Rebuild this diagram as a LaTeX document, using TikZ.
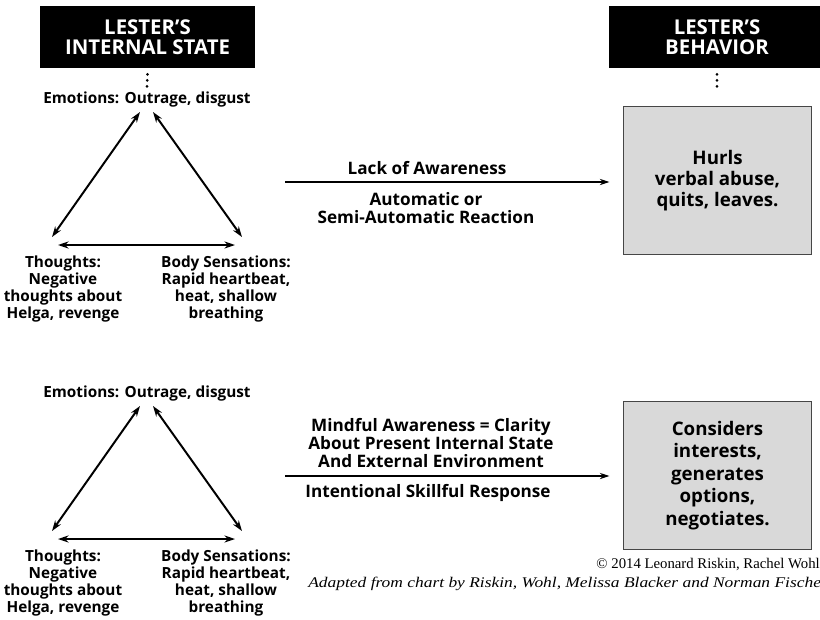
\documentclass[tikz,border=0pt]{standalone}
\usepackage{fontspec}
\setmainfont{Open Sans}
\newfontfamily\notefont{Liberation Serif}
\usepackage{tikz}
\usetikzlibrary{
  positioning,
  arrows.meta
}
\definecolor{boxgray}{RGB}{217,217,217}
\definecolor{edgegray}{RGB}{70,70,70}

\tikzset{
  header/.style={fill=black,text=white,align=center,inner sep=0pt,
    minimum width=5.375cm,minimum height=1.55cm,
    font=\fontsize{14.5}{14.5}\selectfont\bfseries},
  label/.style={align=center,inner sep=0pt,font=\fontsize{10.9}{12.1}\selectfont\bfseries},
  arrowtext/.style={align=center,inner sep=0pt,font=\fontsize{12.2}{12.9}\selectfont\bfseries},
  behavior/.style={draw=edgegray,fill=boxgray,line width=0.7pt,align=center,
    minimum width=4.675cm,minimum height=3.675cm,font=\fontsize{13.3}{15}\selectfont\bfseries},
  dots/.style={line width=2.1pt,line cap=round,dash pattern=on 0pt off 4.3pt},
  twoway/.style={{Stealth[length=7.5pt,width=5pt]}-{Stealth[length=7.5pt,width=5pt]},line width=1.4pt},
  leadto/.style={-{Stealth[length=7pt,width=4.5pt]},line width=0.9pt}
}

\begin{document}
\begin{tikzpicture}[x=0.025cm,y=-0.025cm]
  \useasboundingbox (0,0) rectangle (820,619);
  \clip (0,0) rectangle (820,619);

  % headers
  \node[header] (hdrState) at (147.5,37) {LESTER'S\\INTERNAL STATE};
  \node[header] (hdrBehav) at (717,37) {LESTER'S\\BEHAVIOR};
  \coordinate (dotEnd) at (717,88);
  \draw[dots] ([yshift=-0.15cm]hdrBehav.south) -- (dotEnd);

  % the two triangles
  \foreach \s/\dy in {a/0,b/294}{
    \node[label] (emo\s) at (147,100+\dy) {Emotions: Outrage, disgust};
    \node[label] (tho\s) at (63,289+\dy) {Thoughts:\\Negative\\thoughts about\\Helga, revenge};
    \node[label] (body\s) at (226,289+\dy) {Body Sensations:\\Rapid heartbeat,\\heat, shallow\\breathing};
    \coordinate (apexL\s) at (140,112+\dy);
    \coordinate (apexR\s) at (153,112+\dy);
    \coordinate (cornL\s) at (52,237+\dy);
    \coordinate (cornR\s) at (242,237+\dy);
    \coordinate (baseL\s) at (58,245+\dy);
    \coordinate (baseR\s) at (235,245+\dy);
    \draw[twoway] (apexL\s) -- (cornL\s);
    \draw[twoway] (apexR\s) -- (cornR\s);
    \draw[twoway] (baseL\s) -- (baseR\s);
  }
  \draw[dots] ([yshift=-0.15cm]hdrState.south) -- ([yshift=0.12cm]emoa.north);

  % behaviour boxes
  \node[behavior] (hurls) at (717.5,180.5)
    {Hurls\\verbal abuse,\\quits, leaves.};
  \node[behavior,font=\fontsize{13.3}{16}\selectfont\bfseries] (consider) at (717.5,475.5)
    {Considers\\interests,\\generates\\options,\\negotiates.};

  % top path
  \coordinate (startA) at (285,182);
  \draw[leadto,shorten >=0.35cm] (startA) -- (hurls.west |- startA);
  \node[arrowtext] (lack) at (427,168) {Lack of Awareness};
  \node[arrowtext] (auto) at (426,208) {Automatic or\\Semi-Automatic Reaction};

  % bottom path
  \coordinate (startB) at (285,476);
  \draw[leadto,shorten >=0.35cm] (startB) -- (consider.west |- startB);
  \node[arrowtext] (mindful) at (431,443) {Mindful Awareness = Clarity\\About Present Internal State\\And External Environment};
  \node[arrowtext] (intent) at (428,493) {Intentional Skillful Response};

  % credits
  \node[anchor=east,inner sep=0pt,font=\notefont\fontsize{10.5}{12}\selectfont] (credit) at (820,565)
    {\textcopyright\ 2014 Leonard Riskin, Rachel Wohl};
  \node[anchor=east,inner sep=0pt,font=\notefont\itshape\fontsize{10.5}{12}\selectfont] (adapted) at (828,584)
    {\scalebox{1.18}[1]{Adapted from chart by Riskin, Wohl, Melissa Blacker and Norman Fischer}};
\end{tikzpicture}
\end{document}
